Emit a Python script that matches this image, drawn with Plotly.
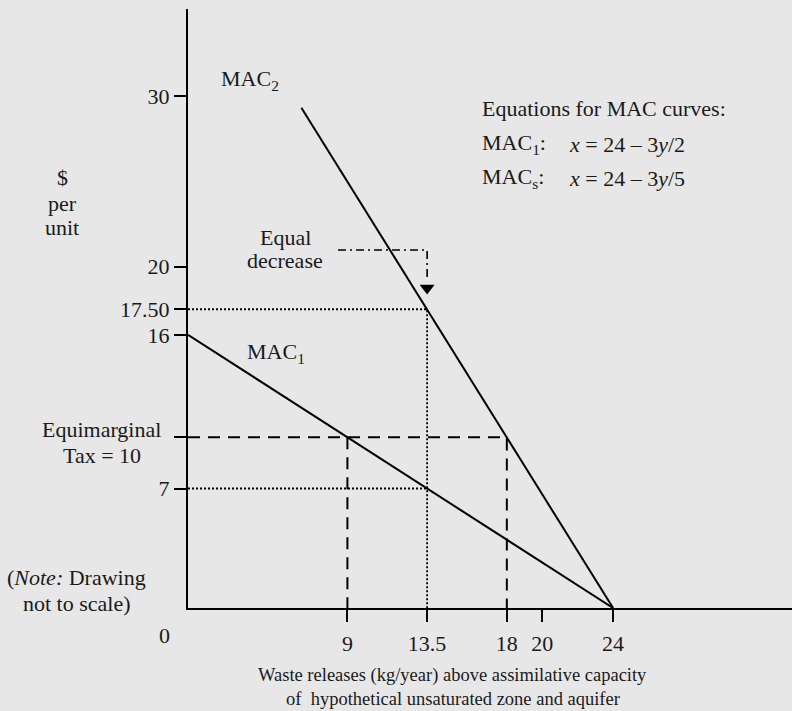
import plotly.graph_objects as go

# Marginal abatement cost curves (not drawn to scale)
mac1_x = [0, 24]
mac1_y = [16, 0]
mac2_x = [6.4, 24]
mac2_y = [29.3, 0]

tax = 10
q1_tax, q2_tax = 9, 18
q_equal = 13.5
p_mac2_equal, p_mac1_equal = 17.5, 7

x_ticks = [9, 13.5, 18, 20, 24]
x_ticktext = ["9", "13.5", "18", "20", "24"]
y_ticks = [30, 20, 17.5, 16, 10, 7]
y_ticktext = ["30", "20", "17.50", "16", "", "7"]

# Dash-dot "equal decrease" pointer
equal_dec_x = [8.47, 13.5, 13.5]
equal_dec_y = [20.97, 20.97, 19.2]

BG = "#e7e7e7"
FONT = "Liberation Serif"
FS = 22
TXT = "#1a1a1a"

fig = go.Figure()

solid = dict(color="black", width=2)
dashed = dict(color="black", width=2, dash="12px,8px")
dotted = dict(color="black", width=1.8, dash="2px,2px")

fig.add_trace(go.Scatter(x=mac1_x, y=mac1_y, mode="lines", line=solid))
fig.add_trace(go.Scatter(x=mac2_x, y=mac2_y, mode="lines", line=solid))

# Dotted guides at the equal-decrease point
fig.add_trace(go.Scatter(x=[0, q_equal, q_equal], y=[p_mac2_equal, p_mac2_equal, 0],
                         mode="lines", line=dotted))
fig.add_trace(go.Scatter(x=[0, q_equal], y=[p_mac1_equal, p_mac1_equal],
                         mode="lines", line=dotted))

# Dashed guides at the equimarginal tax
fig.add_trace(go.Scatter(x=[0, q2_tax, q2_tax], y=[tax, tax, 0], mode="lines", line=dashed))
fig.add_trace(go.Scatter(x=[q1_tax, q1_tax], y=[tax, 0], mode="lines", line=dashed))

fig.add_trace(go.Scatter(x=equal_dec_x, y=equal_dec_y, mode="lines",
                         line=dict(color="black", width=1.6, dash="8px,4px,2px,4px")))
fig.add_trace(go.Scatter(x=[q_equal], y=[18.75], mode="markers",
                         marker=dict(symbol="triangle-down", size=13, color="black")))


def note(text, x, y, xanchor="center", ref="data", size=FS):
    r = "x" if ref == "data" else "paper"
    fig.add_annotation(text=text, x=x, y=y, xref=r, yref=r.replace("x", "y"),
                       showarrow=False, xanchor=xanchor, yanchor="middle", align="center",
                       font=dict(family=FONT, size=size, color=TXT))


# Labels inside the plotting area
note("MAC<sub>2</sub>", 1.75, 30.93, xanchor="left")
note("Equations for MAC curves:", 16.49, 29.29, xanchor="left")
note("MAC<sub>1</sub>:", 16.49, 27.18, xanchor="left")
note("<i>x</i> = 24 – 3<i>y</i>/2", 21.4, 27.18, xanchor="left")
note("MAC<sub>s</sub>:", 16.49, 25.19, xanchor="left")
note("<i>x</i> = 24 – 3<i>y</i>/5", 21.4, 25.19, xanchor="left")
note("Equal", 5.48, 21.73)
note("decrease", 5.48, 20.33)
note("MAC<sub>1</sub>", 3.22, 14.94, xanchor="left")

# Labels in the margins (paper coordinates)
note("$", -0.2086, 0.7179, ref="paper")
note("per", -0.2086, 0.6761, ref="paper")
note("unit", -0.2086, 0.6344, ref="paper")
note("Equimarginal", -0.1424, 0.2988, ref="paper")
note("Tax = 10", -0.1424, 0.2554, ref="paper")
note("(<i>Note:</i> Drawing", -0.1846, 0.0501, ref="paper")
note("not to scale)", -0.1846, 0.0083, ref="paper")
note("0", -0.0381, -0.0451, ref="paper")
note("Waste releases (kg/year) above assimilative capacity", 0.4387, -0.1135,
     ref="paper", size=18.5)
note("of  hypothetical unsaturated zone and aquifer", 0.4387, -0.1519,
     ref="paper", size=18.5)

axis_common = dict(showgrid=False, zeroline=False, showline=True, linecolor="black",
                   linewidth=2, ticks="outside", ticklen=12, tickwidth=2, tickcolor="black",
                   tickfont=dict(family=FONT, size=FS, color=TXT))

fig.update_xaxes(range=[0, 34.1], tickvals=x_ticks, ticktext=x_ticktext,
                 ticklabelstandoff=3, **axis_common)
fig.update_yaxes(range=[0, 35.09], tickvals=y_ticks, ticktext=y_ticktext, **axis_common)

fig.update_layout(width=792, height=711, showlegend=False,
                  margin=dict(l=188, r=0, t=9, b=103),
                  paper_bgcolor=BG, plot_bgcolor=BG)

fig.write_html("out.html")
